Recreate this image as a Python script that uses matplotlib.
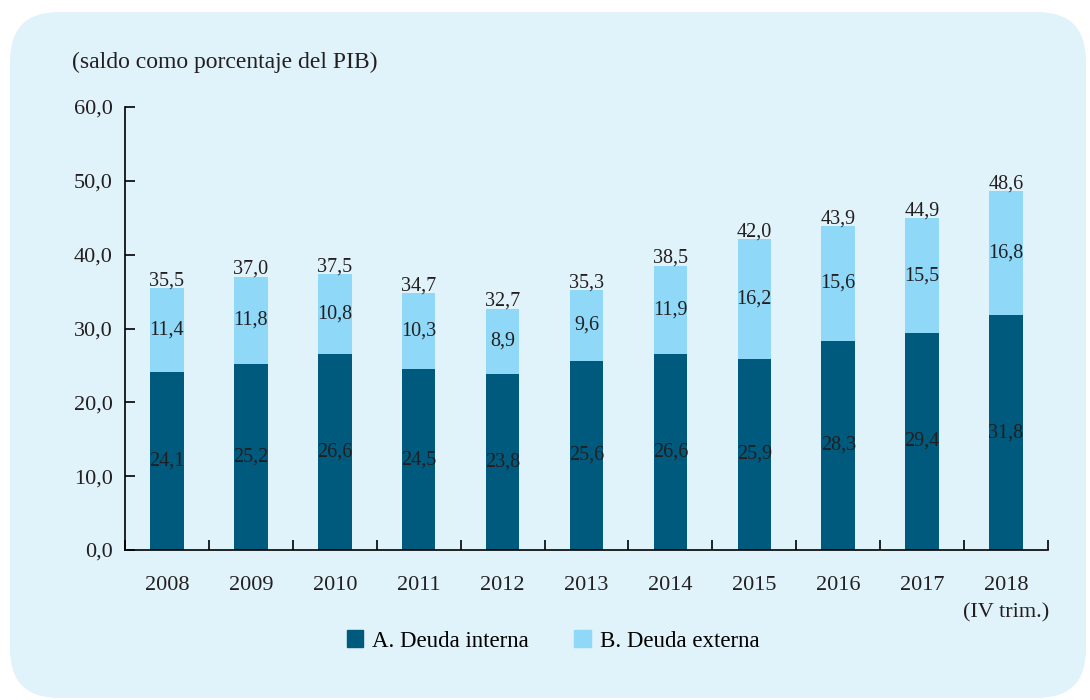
import matplotlib.pyplot as plt
from matplotlib.patches import FancyBboxPatch, Patch

years = ['2008', '2009', '2010', '2011', '2012', '2013', '2014', '2015', '2016', '2017', '2018\n(IV trim.)']
interna = [24.1, 25.2, 26.6, 24.5, 23.8, 25.6, 26.6, 25.9, 28.3, 29.4, 31.8]
externa = [11.4, 11.8, 10.8, 10.3, 8.9, 9.6, 11.9, 16.2, 15.6, 15.5, 16.8]
total = [35.5, 37.0, 37.5, 34.7, 32.7, 35.3, 38.5, 42.0, 43.9, 44.9, 48.6]

dark = '#005a7d'
light = '#8fd8f7'
bg = '#e0f2fa'
txt = '#231f20'

plt.rcParams['font.family'] = ['Liberation Serif', 'DejaVu Serif']

def fmt(v):
    return f'{v:.1f}'.replace('.', ',')

fig = plt.figure(figsize=(10.9, 7), dpi=100)
fig.patch.set_facecolor('white')
# rounded background panel
panel = FancyBboxPatch((10 / 1090, 2 / 700), 1076 / 1090, 686 / 700,
                       boxstyle='round,pad=0,rounding_size=0.045',
                       transform=fig.transFigure, facecolor=bg, edgecolor='none',
                       mutation_aspect=1090 / 700, zorder=-10)
fig.patches.append(panel)

ax = fig.add_axes([125 / 1090, 1 - 550 / 700, (1048 - 125) / 1090, (550 - 107) / 700])
ax.set_facecolor('none')

x = list(range(len(years)))
w = 0.4
ax.bar(x, interna, width=w, color=dark, label='A. Deuda interna')
ax.bar(x, externa, width=w, bottom=interna, color=light, label='B. Deuda externa')

for i in x:
    ax.text(i, interna[i] / 2, fmt(interna[i]), ha='center', va='center', fontsize=14.5, color=txt)
    ax.text(i, interna[i] + externa[i] / 2, fmt(externa[i]), ha='center', va='center', fontsize=14.5, color=txt)
    ax.text(i, interna[i] + externa[i] - 0.3, fmt(total[i]), ha='center', va='bottom', fontsize=14.5, color=txt)

ax.set_ylim(0, 60)
ax.set_xlim(-0.5, len(years) - 0.5)
ax.set_yticks([0, 10, 20, 30, 40, 50, 60])
ax.set_yticklabels([fmt(v) for v in [0, 10, 20, 30, 40, 50, 60]], fontsize=16, color=txt)
ax.set_xticks([i - 0.5 for i in range(len(years) + 1)])
ax.set_xticklabels([])
ax.set_xticks(x, minor=True)
ax.set_xticklabels(years, minor=True, fontsize=16, color=txt, linespacing=1.55)
ax.tick_params(axis='x', which='major', direction='in', length=7, width=1.2)
ax.tick_params(axis='x', which='minor', length=0, pad=19)
ax.tick_params(axis='y', direction='in', length=7, width=1.2, pad=9)

for s in ['top', 'right']:
    ax.spines[s].set_visible(False)
for s in ['left', 'bottom']:
    ax.spines[s].set_linewidth(1.2)

fig.text(72 / 1090, 1 - 62 / 700, '(saldo como porcentaje del PIB)', fontsize=17, color=txt, va='center')

handles = [Patch(color=dark, label='A. Deuda interna'), Patch(color=light, label='B. Deuda externa')]
fig.legend(handles=handles, loc='center', bbox_to_anchor=(553 / 1090, 1 - 641 / 700), ncol=2,
           frameon=False, fontsize=16.5, handlelength=0.7, handleheight=0.7,
           handletextpad=0.4, columnspacing=2.0)

fig.savefig('out.png', dpi=100, facecolor='white')
